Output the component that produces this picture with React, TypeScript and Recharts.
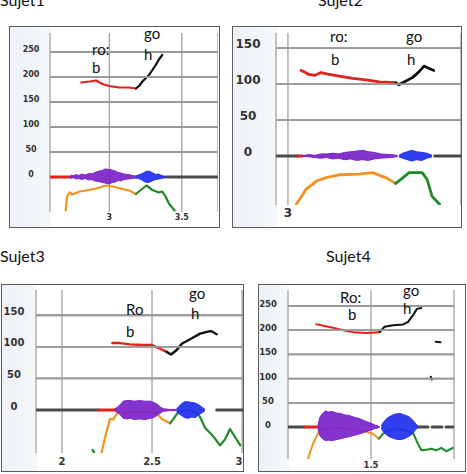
import React from "react";
import { ComposedChart, Line, Area, XAxis, YAxis, CartesianGrid } from "recharts";

type Pt = [number, number];
type Env = [number, number, number];

// ---- Sujet1 ----
const s1PitchTicks = [0, 50, 100, 150, 200, 250];
const s1TimeTicks = [3, 3.5];
const s1Red: Pt[] = [[2.806, 189], [2.835, 190], [2.863, 191], [2.909, 193], [2.932, 189], [2.96, 185], [3.0, 182], [3.068, 179], [3.137, 179], [3.183, 177]];
const s1Black: Pt[] = [[3.183, 177], [3.205, 182], [3.228, 191], [3.274, 204], [3.32, 224], [3.342, 235], [3.365, 244]];
const s1Orange: Pt[] = [[2.699, -67], [2.703, -52], [2.708, -39], [2.726, -31], [2.745, -35], [2.76, -33], [2.795, -29], [2.84, -27], [2.909, -23], [2.977, -17], [3.023, -19], [3.091, -24], [3.137, -27], [3.183, -34]];
const s1Green: Pt[] = [[3.183, -34], [3.217, -26], [3.256, -17], [3.297, -26], [3.342, -31], [3.365, -29], [3.388, -39], [3.411, -53], [3.45, -67]];
const s1Purple: Env[] = [[2.726, -1, 1], [2.74, -3, 4], [2.75, -1, 2], [2.77, -4, 5], [2.79, -3, 3], [2.81, -5, 6], [2.83, -3, 4], [2.86, -6, 7], [2.88, -5, 6], [2.9, -8, 9], [2.93, -9, 12], [2.95, -11, 13], [2.97, -12, 16], [3.0, -14, 15], [3.02, -11, 14], [3.04, -10, 12], [3.06, -7, 9], [3.08, -8, 8], [3.1, -5, 6], [3.13, -4, 5], [3.16, -3, 3], [3.183, -2, 2]];
const s1Blue: Env[] = [[3.183, -2, 2], [3.2, -3, 4], [3.22, -5, 6], [3.24, -9, 9], [3.26, -11, 12], [3.28, -10, 11], [3.3, -7, 8], [3.32, -5, 5], [3.34, -4, 6], [3.36, -3, 3], [3.388, -1, 1]];
const s1BaseRed: Pt[] = [[2.59, 0], [2.726, 0]];
const s1BaseDark: Pt[] = [[3.388, 0], [3.75, 0]];

// ---- Sujet2 ----
const s2PitchTicks = [0, 50, 100, 150];
const s2TimeTicks = [3];
const s2Red: Pt[] = [[3.044, 119], [3.055, 117], [3.067, 114], [3.089, 112], [3.111, 116], [3.133, 114], [3.172, 111], [3.217, 108], [3.261, 106], [3.306, 103], [3.361, 102]];
const s2Black: Pt[] = [[3.361, 102], [3.372, 99], [3.389, 103], [3.417, 109], [3.439, 117], [3.456, 125], [3.472, 122], [3.489, 119]];
const s2Orange: Pt[] = [[3.028, -67], [3.044, -57], [3.061, -46], [3.083, -39], [3.094, -35], [3.128, -30], [3.172, -26], [3.239, -25], [3.283, -23], [3.328, -30], [3.361, -38]];
const s2Green: Pt[] = [[3.361, -38], [3.383, -31], [3.406, -23], [3.45, -23], [3.467, -33], [3.483, -56], [3.508, -67]];
const s2Purple: Env[] = [[3.048, -0.5, 0.5], [3.07, -1, 2], [3.09, -2, 1], [3.11, -3, 3], [3.13, -2, 3], [3.15, -4, 4], [3.17, -3, 3], [3.19, -5, 5], [3.21, -4, 6], [3.23, -6, 7], [3.25, -5, 8], [3.27, -6, 6], [3.29, -4, 5], [3.31, -3, 3], [3.34, -2, 2], [3.367, -1, 1]];
const s2Blue: Env[] = [[3.372, -1, 1], [3.385, -3, 4], [3.4, -5, 6], [3.415, -7, 8], [3.43, -5, 6], [3.45, -6, 5], [3.465, -3, 4], [3.483, -1, 1]];
const s2BaseDark: Pt[] = [[2.96, 0], [3.033, 0]];
const s2BaseRed: Pt[] = [[3.033, 0], [3.048, 0]];
const s2BaseTail: Pt[] = [[3.492, 0], [3.58, 0]];

// ---- Sujet3 ----
const s3PitchTicks = [0, 50, 100, 150];
const s3TimeTicks = [2, 2.5, 3];
const s3Red: Pt[] = [[2.28, 106], [2.322, 106], [2.378, 104], [2.452, 103], [2.498, 103], [2.544, 97], [2.581, 92]];
const s3Black: Pt[] = [[2.581, 92], [2.606, 88], [2.637, 95], [2.665, 105], [2.711, 112], [2.767, 121], [2.794, 123], [2.822, 125], [2.835, 124], [2.859, 120]];
const s3Orange: Pt[] = [[2.22, -68], [2.244, -38], [2.267, -14], [2.285, -15], [2.307, -5], [2.4, -3], [2.5, -3], [2.526, -5], [2.554, -14], [2.581, -18], [2.6, -21]];
const s3Green: Pt[] = [[2.6, -21], [2.619, -14], [2.646, -3], [2.7, 0], [2.75, -5], [2.767, -11], [2.794, -28], [2.841, -42], [2.878, -56], [2.906, -46], [2.933, -30], [2.95, -38], [2.99, -56]];
const s3GreenStray: Pt[] = [[2.17, -63], [2.178, -67]];
const s3Purple: Env[] = [[2.294, -2, 2], [2.31, -4, 5], [2.325, -8, 9], [2.34, -13, 14], [2.36, -14, 15], [2.38, -13, 15], [2.4, -15, 14], [2.43, -14, 15], [2.46, -15, 14], [2.49, -13, 14], [2.51, -12, 12], [2.53, -8, 9], [2.545, -5, 5], [2.563, -2, 2], [2.6, -1, 1], [2.637, -1, 1]];
const s3Blue: Env[] = [[2.637, -2, 2], [2.65, -6, 6], [2.665, -9, 10], [2.68, -12, 13], [2.7, -13, 13], [2.72, -11, 12], [2.74, -12, 11], [2.76, -7, 8], [2.78, -4, 4], [2.794, -1, 1]];
const s3BaseDark: Pt[] = [[1.856, 0], [2.202, 0]];
const s3BaseRed: Pt[] = [[2.202, 0], [2.294, 0]];
const s3BaseTail: Pt[] = [[2.859, 0], [3.005, 0]];

// ---- Sujet4 ----
const s4PitchTicks = [0, 50, 100, 150, 200, 250];
const s4TimeTicks = [1.5];
const s4Red: Pt[] = [[1.302, 212], [1.315, 211], [1.327, 209], [1.363, 205], [1.399, 200], [1.435, 196], [1.483, 194], [1.531, 196]];
const s4Black: Pt[] = [[1.531, 196], [1.549, 207], [1.58, 210], [1.616, 212], [1.634, 217], [1.652, 231], [1.666, 244], [1.682, 246]];
const s4BlackDash: Pt[] = [[1.734, 176], [1.751, 175]];
const s4BlackTick: Pt[] = [[1.716, 104], [1.72, 98]];
const s4Orange: Pt[] = [[1.272, -66], [1.29, -35], [1.308, -14], [1.317, -4], [1.4, -2], [1.483, -10], [1.507, -14], [1.529, -24]];
const s4Green: Pt[] = [[1.529, -24], [1.543, -14], [1.561, -7], [1.6, -3], [1.652, -12], [1.67, -35], [1.682, -48], [1.7, -47], [1.718, -45], [1.736, -48], [1.754, -43], [1.772, -50], [1.796, -43]];
const s4Purple: Env[] = [[1.308, -2, 2], [1.315, -18, 20], [1.325, -24, 28], [1.335, -28, 33], [1.345, -27, 31], [1.36, -28, 32], [1.375, -26, 29], [1.39, -24, 28], [1.405, -22, 25], [1.42, -20, 24], [1.44, -17, 20], [1.46, -14, 17], [1.48, -10, 12], [1.5, -6, 8], [1.515, -3, 4], [1.531, -1, 1]];
const s4Blue: Env[] = [[1.537, -2, 2], [1.545, -10, 10], [1.56, -18, 19], [1.575, -22, 24], [1.59, -25, 27], [1.605, -26, 28], [1.62, -24, 25], [1.635, -20, 22], [1.65, -14, 15], [1.66, -6, 8], [1.67, -1, 1]];
const s4BaseDark: Pt[] = [[1.2, 0], [1.26, 0]];
const s4BaseRed: Pt[] = [[1.26, 0], [1.308, 0]];
const s4BaseTail: Pt[] = [[1.67, 0], [1.8, 0]];

const RED = "#e3201b";
const BLACK = "#111111";
const ORANGE = "#f5921e";
const GREEN = "#1f8b24";
const PURPLE = "#7b22c9";
const BLUE = "#1f2ff0";
const BASE = "#4a4a4a";
const GRID = "#a9a9a9";
const RULE = "#9a9a9a";

const pts = (a: Pt[]) => a.map(([t, v]) => ({ t, v }));
const env = (a: Env[]) => a.map(([t, lo, hi]) => ({ t, r: [lo, hi] }));

type Trace = { data: Pt[]; color: string; width: number; dash?: string };
type Panel = {
  title: string;
  titleAt: [number, number];
  frame: [number, number, number, number];
  chart: [number, number, number, number];
  plot: [number, number, number, number];
  tDomain: [number, number];
  vDomain: [number, number];
  tTicks: number[];
  vTicks: number[];
  tickSize: number;
  yLabelX: number;
  yLabelLift: number;
  xLabelY: number;
  under: Trace[];
  waves: { data: Env[]; color: string }[];
  over: Trace[];
  notes: [string, number, number][];
};

const panels: Panel[] = [
  {
    title: "Sujet1",
    titleAt: [0, 6],
    frame: [9, 26, 211, 202],
    chart: [11, 28, 207, 198],
    plot: [50, 33, 218, 212],
    tDomain: [2.59, 3.75],
    vDomain: [-70, 288],
    tTicks: s1TimeTicks,
    vTicks: s1PitchTicks,
    tickSize: 8,
    yLabelX: 31,
    yLabelLift: 3,
    xLabelY: 217,
    under: [
      { data: s1BaseRed, color: RED, width: 3 },
      { data: s1BaseDark, color: BASE, width: 3 },
      { data: s1Orange, color: ORANGE, width: 2.2 },
      { data: s1Green, color: GREEN, width: 2.2 },
    ],
    waves: [{ data: s1Purple, color: PURPLE }, { data: s1Blue, color: BLUE }],
    over: [
      { data: s1Red, color: RED, width: 2.2 },
      { data: s1Black, color: BLACK, width: 2.2 },
    ],
    notes: [["ro:", 92, 55], ["b", 92, 73], ["go", 144, 39], ["h", 144, 60]],
  },
  {
    title: "Sujet2",
    titleAt: [318, 6],
    frame: [232, 26, 230, 202],
    chart: [234, 28, 227, 198],
    plot: [276, 33, 461, 205],
    tDomain: [2.96, 3.58],
    vDomain: [-68, 171],
    tTicks: s2TimeTicks,
    vTicks: s2PitchTicks,
    tickSize: 12,
    yLabelX: 248,
    yLabelLift: 4,
    xLabelY: 213,
    under: [
      { data: s2BaseDark, color: BASE, width: 3 },
      { data: s2BaseRed, color: RED, width: 3 },
      { data: s2BaseTail, color: BASE, width: 3 },
      { data: s2Orange, color: ORANGE, width: 2.8 },
      { data: s2Green, color: GREEN, width: 2.8 },
    ],
    waves: [{ data: s2Purple, color: PURPLE }, { data: s2Blue, color: BLUE }],
    over: [
      { data: s2Red, color: RED, width: 2.8 },
      { data: s2Black, color: BLACK, width: 2.8 },
    ],
    notes: [["ro:", 330, 42], ["b", 331, 65], ["go", 406, 42], ["h", 407, 65]],
  },
  {
    title: "Sujet3",
    titleAt: [0, 262],
    frame: [1, 284, 243, 188],
    chart: [3, 286, 240, 184],
    plot: [36, 290, 243, 453],
    tDomain: [1.856, 3.005],
    vDomain: [-68, 190],
    tTicks: s3TimeTicks,
    vTicks: s3PitchTicks,
    tickSize: 10,
    yLabelX: 14,
    yLabelLift: 4,
    xLabelY: 461,
    under: [
      { data: s3BaseDark, color: BASE, width: 3 },
      { data: s3BaseRed, color: RED, width: 3 },
      { data: s3BaseTail, color: BASE, width: 3 },
      { data: s3Orange, color: ORANGE, width: 2.2 },
      { data: s3Green, color: GREEN, width: 2.2 },
      { data: s3GreenStray, color: GREEN, width: 2.2 },
    ],
    waves: [{ data: s3Purple, color: PURPLE }, { data: s3Blue, color: BLUE }],
    over: [
      { data: s3Red, color: RED, width: 2.4 },
      { data: s3Black, color: BLACK, width: 2.4 },
    ],
    notes: [["Ro", 126, 315], ["b", 126, 337], ["go", 189, 299], ["h", 191, 319]],
  },
  {
    title: "Sujet4",
    titleAt: [326, 262],
    frame: [258, 284, 208, 188],
    chart: [260, 286, 204, 184],
    plot: [288, 290, 454, 459],
    tDomain: [1.2, 1.8],
    vDomain: [-66, 283],
    tTicks: s4TimeTicks,
    vTicks: s4PitchTicks,
    tickSize: 8.5,
    yLabelX: 268,
    yLabelLift: 2,
    xLabelY: 465,
    under: [
      { data: s4BaseDark, color: BASE, width: 3 },
      { data: s4BaseRed, color: RED, width: 3 },
      { data: s4BaseTail, color: BASE, width: 3, dash: "10 4" },
      { data: s4Orange, color: ORANGE, width: 2 },
      { data: s4Green, color: GREEN, width: 2 },
    ],
    waves: [{ data: s4Purple, color: PURPLE }, { data: s4Blue, color: BLUE }],
    over: [
      { data: s4Red, color: RED, width: 2 },
      { data: s4Black, color: BLACK, width: 2 },
      { data: s4BlackDash, color: BLACK, width: 2 },
      { data: s4BlackTick, color: BLACK, width: 2 },
    ],
    notes: [["Ro:", 340, 303], ["b", 348, 320], ["go", 403, 296], ["h", 403, 314]],
  },
];

function PitchPanel({ p }: { p: Panel }) {
  const [cx, cy, cw, ch] = p.chart;
  const [px0, py0, px1, py1] = p.plot;
  const stripW = px0 - p.frame[0];
  // horizontal rules at every non-zero pitch tick, spanning the time range
  const rules: Trace[] = p.vTicks
    .filter((v) => v !== 0)
    .map((v) => ({ data: [[p.tDomain[0], v], [p.tDomain[1], v]] as Pt[], color: RULE, width: 1.8 }));
  const lineOf = (tr: Trace, key: string, z?: number) => (
    <Line
      key={key}
      data={pts(tr.data)}
      dataKey="v"
      type="linear"
      stroke={tr.color}
      strokeOpacity={1}
      strokeWidth={tr.width}
      strokeDasharray={tr.dash}
      strokeLinejoin="round"
      strokeLinecap={tr.color === RULE ? "butt" : "round"}
      dot={false}
      activeDot={false}
      isAnimationActive={false}
      {...(z !== undefined ? { zIndex: z } : {})}
    />
  );
  return (
    <>
      <div
        style={{
          position: "absolute",
          left: p.frame[0],
          top: p.frame[1],
          width: p.frame[2],
          height: p.frame[3],
          boxSizing: "border-box",
          border: "1.5px solid #5c5c5c",
          background: `linear-gradient(to right, #eef2f8 0px, #f4f7fb ${stripW}px, #ffffff ${stripW}px)`,
        }}
      />
      <div style={{ position: "absolute", left: cx, top: cy }}>
        <ComposedChart
          width={cw}
          height={ch}
          margin={{ top: py0 - cy, right: cx + cw - px1, bottom: 0, left: 0 }}
        >
          <CartesianGrid stroke={GRID} strokeWidth={1.4} fill="#ffffff" horizontal={false} />
          <XAxis
            type="number"
            dataKey="t"
            domain={p.tDomain}
            ticks={p.tTicks}
            allowDataOverflow
            axisLine={false}
            tickLine={false}
            height={cy + ch - py1}
            tick={(props: any) => (
              <text
                x={props.x}
                y={p.xLabelY - cy + p.tickSize * 0.36}
                textAnchor="middle"
                fontFamily="DejaVu Sans"
                fontWeight="bold"
                fontSize={p.tickSize}
                fill="#333"
              >
                {String(props.payload.value)}
              </text>
            )}
          />
          <YAxis
            type="number"
            domain={p.vDomain}
            ticks={p.vTicks}
            allowDataOverflow
            axisLine={false}
            tickLine={false}
            width={px0 - cx}
            tick={(props: any) => (
              <g>
                {props.payload.value !== 0 && (
                  <line
                    x1={px0 - cx}
                    x2={px1 - cx}
                    y1={props.y}
                    y2={props.y}
                    stroke={RULE}
                    strokeOpacity={1}
                    strokeWidth={1.8}
                  />
                )}
                <text
                  x={p.yLabelX - cx}
                  y={props.y - p.yLabelLift + p.tickSize * 0.36}
                  textAnchor="middle"
                  fontFamily="DejaVu Sans"
                  fontWeight="bold"
                  fontSize={p.tickSize}
                  fill="#333"
                >
                  {String(props.payload.value)}
                </text>
              </g>
            )}
          />
          {rules.map((tr, i) => lineOf(tr, "g" + i, 450))}
          {p.under.map((tr, i) => lineOf(tr, "u" + i))}
          {p.waves.map((w, i) => (
            <Area
              key={"w" + i}
              data={env(w.data)}
              dataKey="r"
              type="linear"
              stroke={w.color}
              strokeWidth={1}
              fill={w.color}
              fillOpacity={0.92}
              dot={false}
              activeDot={false}
              isAnimationActive={false}
              zIndex={500 + i}
            />
          ))}
          {p.over.map((tr, i) => lineOf(tr, "o" + i, 600 + i))}
        </ComposedChart>
      </div>
    </>
  );
}

export default function App() {
  return (
    <div style={{ position: "fixed", left: 0, top: 0, width: 467, height: 474, background: "#fff", overflow: "hidden" }}>
      {panels.map((p) => (
        <PitchPanel key={p.title} p={p} />
      ))}
      <svg width={467} height={474} style={{ position: "absolute", left: 0, top: 0, pointerEvents: "none" }}>
        {panels.map((p) => (
          <g key={p.title} fontFamily="Lato" fill="#111">
            <text x={p.titleAt[0]} y={p.titleAt[1]} fontSize={16}>
              {p.title}
            </text>
            {p.notes.map(([s, x, y], i) => (
              <text key={i} x={x} y={y} fontSize={15}>
                {s}
              </text>
            ))}
          </g>
        ))}
      </svg>
    </div>
  );
}
